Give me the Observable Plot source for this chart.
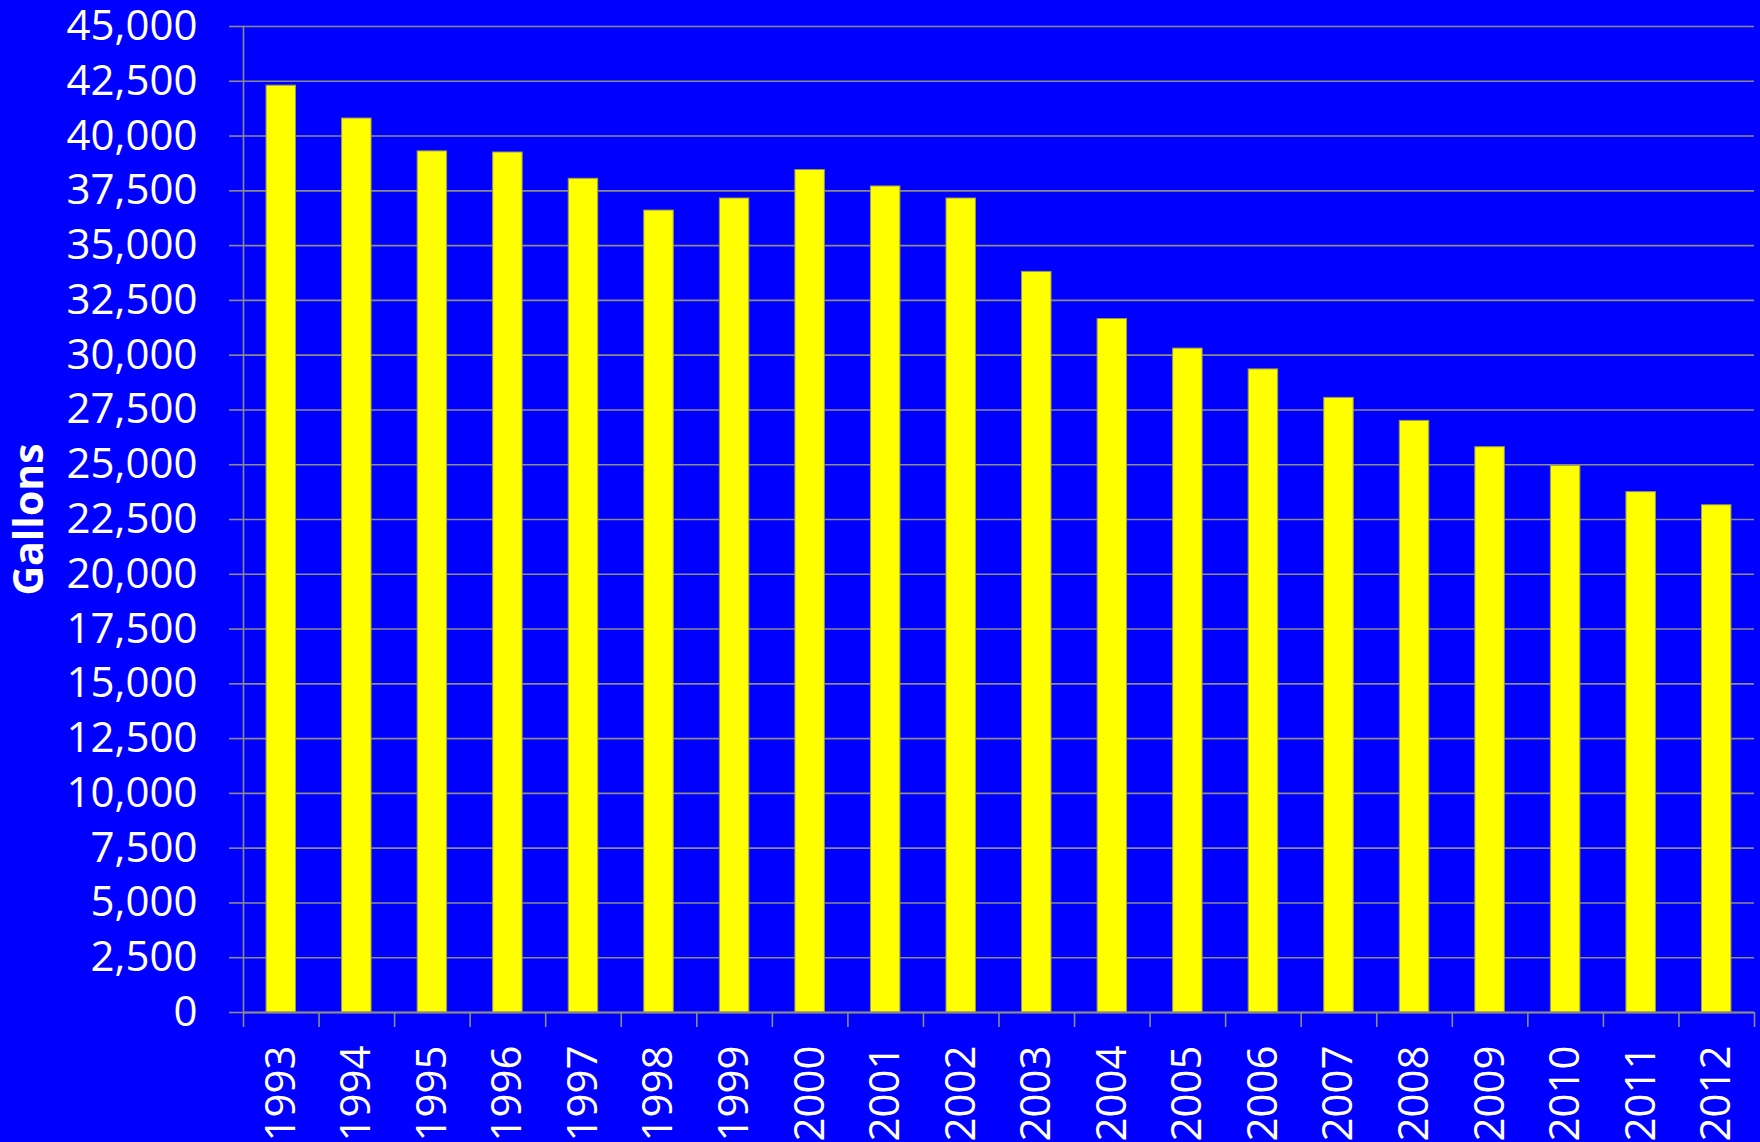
<!DOCTYPE html>
<html>
<head>
<meta charset="utf-8">
<script src="https://cdn.jsdelivr.net/npm/d3@7"></script>
<script src="https://cdn.jsdelivr.net/npm/@observablehq/plot@0.6"></script>
<style>
  html, body { margin: 0; padding: 0; background: #0000ff; }
  #chart { width: 1760px; height: 1142px; overflow: hidden; }
</style>
</head>
<body>
<div id="chart"></div>
<script>
const years = ["1993","1994","1995","1996","1997","1998","1999","2000","2001","2002",
               "2003","2004","2005","2006","2007","2008","2009","2010","2011","2012"];
const gallons = [42300, 40800, 39300, 39250, 38050, 36600, 37150, 38450, 37700, 37150,
                 33800, 31650, 30300, 29350, 28050, 27000, 25800, 24950, 23750, 23150];
const yTicks = d3.range(0, 45001, 2500);
const yLabel = "Gallons";

const data = years.map((y, i) => ({year: y, value: gallons[i]}));

const W = 1760, H = 1142;
const mL = 243, mR = 6, mT = 26, mB = 130;
const step = (W - mL - mR) / years.length;
const grey = "#8a8a8a";
const font = "Open Sans";

const chart = Plot.plot({
  width: W,
  height: H,
  marginLeft: mL,
  marginRight: mR,
  marginTop: mT,
  marginBottom: mB,
  style: {background: "#0000ff", color: "white", fontFamily: font},
  x: {type: "band", domain: years, paddingInner: 0.61, paddingOuter: 0.305, align: 0.5, round: false},
  y: {domain: [0, 45000]},
  marks: [
    Plot.gridY(yTicks, {stroke: grey, strokeOpacity: 1, strokeWidth: 1.6}),
    Plot.barY(data, {x: "year", y: "value", fill: "#ffff00", stroke: "#9a9a50", strokeWidth: 1}),
    Plot.axisY(yTicks, {
      tickSize: 14, tickPadding: 32, stroke: grey, strokeWidth: 1.6,
      tickFormat: d3.format(","), fontSize: 42, fill: "white", label: null
    }),
    Plot.frame({anchor: "left", stroke: grey, strokeWidth: 1.6}),
    Plot.ruleY([0], {stroke: grey, strokeWidth: 2}),
    Plot.axisX(years, {tickSize: 15, dx: -step / 2, stroke: grey, strokeWidth: 1.6, tickFormat: () => "", label: null}),
    Plot.axisX([years[years.length - 1]], {tickSize: 15, dx: step / 2, stroke: grey, strokeWidth: 1.6, tickFormat: () => "", label: null}),
    Plot.axisX(years, {tickSize: 0, tickPadding: 33, tickRotate: -90, fontSize: 42, fill: "white", label: null}),
    Plot.text([yLabel], {
      frameAnchor: "left", dx: -214, rotate: -90, text: d => d, textAnchor: "middle",
      fontSize: 41, fontWeight: "bold", fill: "white", fontFamily: font
    })
  ]
});
document.getElementById("chart").appendChild(chart);
</script>
</body>
</html>
